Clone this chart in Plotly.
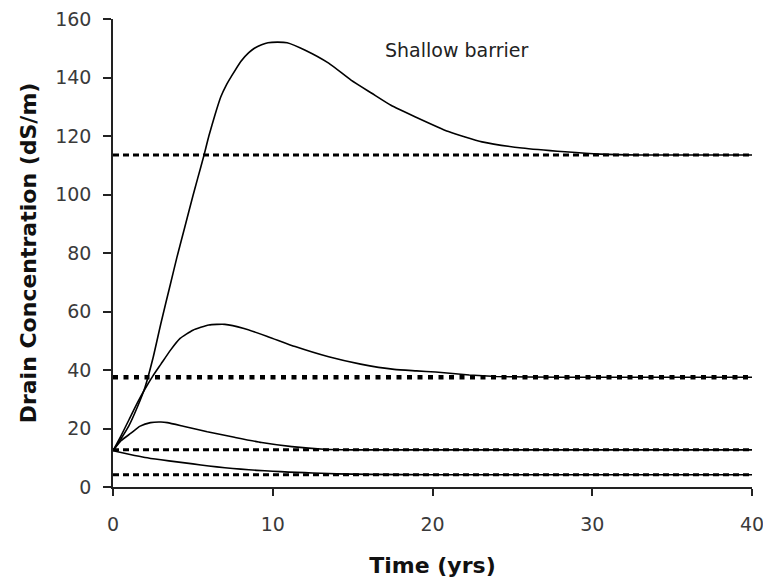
import plotly.graph_objects as go

# Time (years) and drain concentration (dS/m)
t_big = [0, 0.5, 1, 1.5, 2, 2.5, 3, 3.6, 4, 4.5, 5, 5.3, 5.7, 6.0, 6.4, 6.75, 7.1, 7.4, 8, 8.5, 8.85, 9.3, 9.7,
         10.3, 10.9, 12, 13.5, 14.9, 16.2, 17.4, 18.9, 21, 23.1, 25.6, 28.3, 30.5, 33, 40]
c_big = [12.4, 16.5, 21, 27, 34, 44, 56, 69.5, 78.5, 89, 99.5, 105.5, 113.5, 120, 127.5, 133.4, 137.5, 140.3,
         145.5, 148.5, 150, 151.2, 151.9, 152.1, 151.9, 149.4, 144.9, 139.1, 134.6, 130.5, 126.6, 121.5,
         118, 115.9, 114.6, 113.8, 113.5, 113.5]

t_mid = [0, 0.5, 1, 1.5, 2, 2.5, 3, 3.6, 4.2, 5, 6, 7, 8.2, 9.7, 11.4, 13.5, 15.5, 17.6, 19, 20.2, 22.3,
         24, 26, 30, 40]
c_mid = [12.4, 17.5, 23, 28.5, 33.5, 38, 42, 46.8, 50.8, 53.6, 55.4, 55.6, 54.2, 51.4, 48, 44.5, 42,
         40.2, 39.7, 39.3, 38.3, 37.8, 37.6, 37.5, 37.5]

t_small = [0, 0.5, 1.1, 1.7, 2.35, 3.0, 3.4, 4.4, 5.9, 7.6, 9.3, 11.2, 13.2, 15, 20, 40]
c_small = [12.4, 15.8, 18.3, 20.8, 22, 22.2, 22, 20.8, 18.9, 17, 15.2, 13.8, 12.9, 12.7, 12.7, 12.7]

t_low = [0, 1, 2, 3, 4, 5, 6, 7, 8, 9, 10, 11, 12, 13, 14, 16, 20, 40]
c_low = [12.4, 11.2, 10.1, 9.3, 8.6, 7.9, 7.2, 6.6, 6.1, 5.7, 5.4, 5.1, 4.9, 4.7, 4.5, 4.3, 4.2, 4.2]

# Steady-state levels (dotted lines)
steady_levels = [113.5, 37.5, 12.7, 4.2]
steady_widths = [3, 4.5, 3, 3]
steady_dash = ["6px,4px", "5px,5.5px", "6px,4px", "6px,4px"]
t_span = [0, 40]

x_ticks = [0, 10, 20, 30, 40]
y_ticks = [0, 20, 40, 60, 80, 100, 120, 140, 160]

FONT = "DejaVu Sans, Liberation Sans, Arial"

fig = go.Figure()

for lvl, w, d in zip(steady_levels, steady_widths, steady_dash):
    fig.add_trace(go.Scatter(x=t_span, y=[lvl, lvl], mode="lines",
                             line=dict(color="black", width=w, dash=d),
                             showlegend=False, hoverinfo="skip"))

for tx, cy in [(t_big, c_big), (t_mid, c_mid), (t_small, c_small), (t_low, c_low)]:
    fig.add_trace(go.Scatter(x=tx, y=cy, mode="lines",
                             line=dict(color="black", width=1.6, shape="spline", smoothing=0.5),
                             showlegend=False))

fig.add_annotation(x=21.5, y=149.4, xref="x", yref="y", text="Shallow barrier",
                   showarrow=False, font=dict(family=FONT, size=19, color="#222"))

fig.update_layout(
    width=763, height=584,
    margin=dict(l=113, r=11, t=19, b=97),
    paper_bgcolor="white", plot_bgcolor="white",
    font=dict(family=FONT, color="#222"),
)
fig.update_xaxes(range=[0, 40], tickvals=x_ticks, showgrid=False, zeroline=False, automargin=False,
                 showline=True, linecolor="#222", linewidth=1.5,
                 ticks="outside", ticklen=7, tickcolor="#222", tickwidth=1.5,
                 ticklabelstandoff=12, ticklabeloverflow="allow",
                 tickfont=dict(family=FONT, size=19, color="#3a3a3a"),
                 title=dict(text="<b>Time (yrs)</b>", font=dict(family=FONT, size=22, color="#111"),
                            standoff=24))
fig.update_yaxes(range=[0, 160], tickvals=y_ticks, showgrid=False, zeroline=False, automargin=False,
                 showline=True, linecolor="#222", linewidth=1.5,
                 ticks="outside", ticklen=8, tickcolor="#222", tickwidth=1.5,
                 ticklabelstandoff=8, ticklabeloverflow="allow",
                 tickfont=dict(family=FONT, size=19, color="#3a3a3a"),
                 title=dict(text="<b>Drain Concentration (dS/m)</b>",
                            font=dict(family=FONT, size=22, color="#111"), standoff=12))

fig.write_html("out.html")
